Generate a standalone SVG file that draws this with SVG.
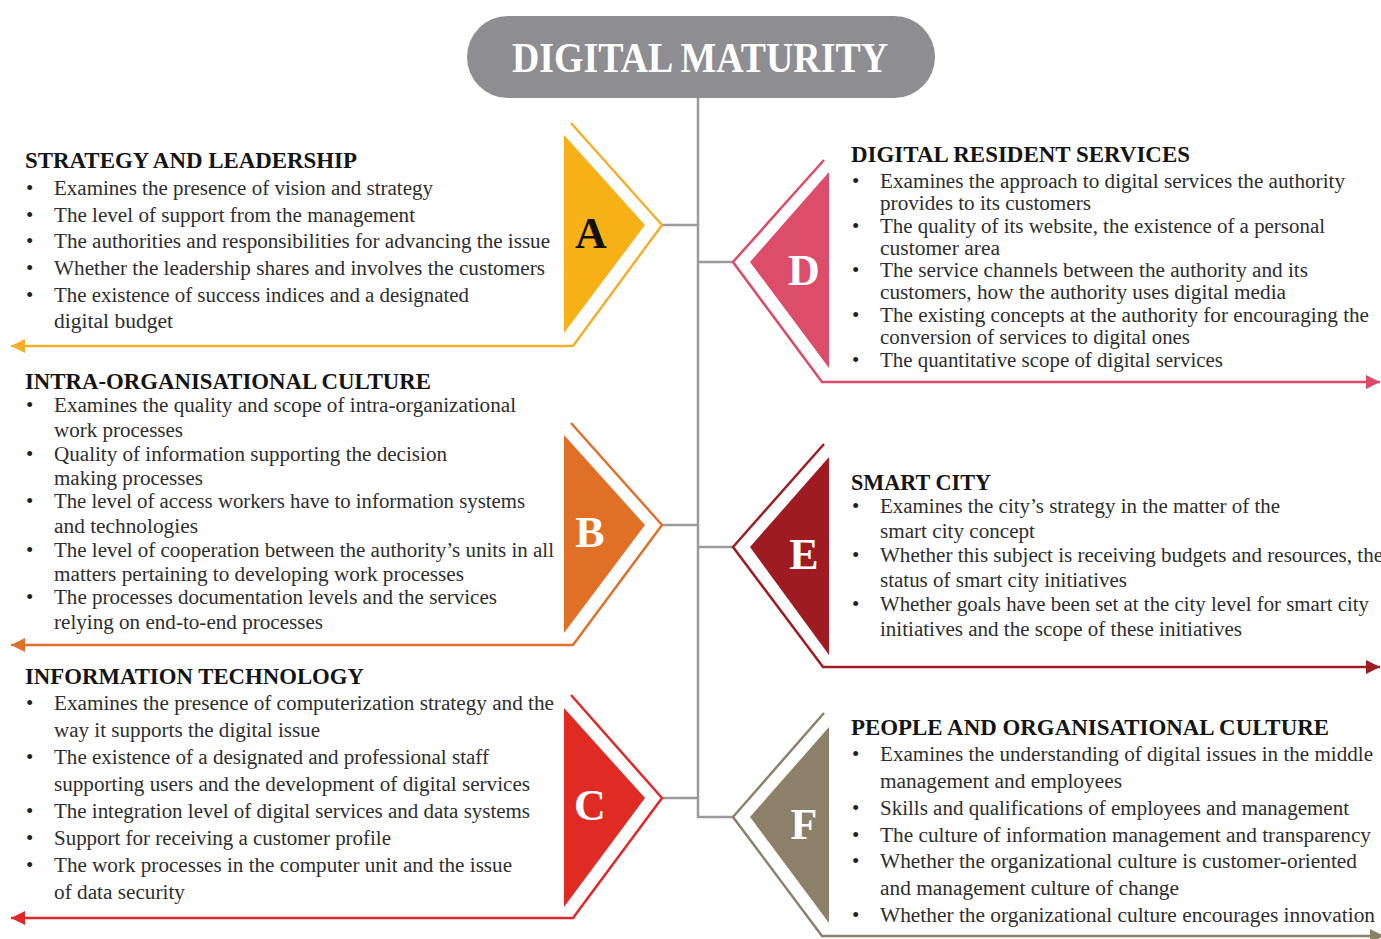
<svg xmlns="http://www.w3.org/2000/svg" width="1381" height="939" viewBox="0 0 1381 939">
<style>
.t{font-family:"Liberation Serif","Times New Roman",serif;font-size:20px;fill:#2e2e2e}
.b{font-family:"Liberation Serif","Times New Roman",serif;font-size:21px;fill:#222}
.h{font-family:"Liberation Serif","Times New Roman",serif;font-size:24px;font-weight:bold;fill:#141414}
.L{font-family:"Liberation Serif","Times New Roman",serif;font-size:44px;font-weight:bold;text-anchor:middle}
.con{fill:none;stroke:#9b9b9b;stroke-width:2.5}
.ol{fill:none;stroke-width:2.5;stroke-linejoin:miter}
</style>
<defs>
<marker id="mA" markerUnits="userSpaceOnUse" markerWidth="16" markerHeight="16" refX="14" refY="7" orient="auto"><path d="M0,0 L14,7 L0,14 z" fill="#F2B02A"/></marker>
<marker id="mB" markerUnits="userSpaceOnUse" markerWidth="16" markerHeight="16" refX="14" refY="7" orient="auto"><path d="M0,0 L14,7 L0,14 z" fill="#E0712C"/></marker>
<marker id="mC" markerUnits="userSpaceOnUse" markerWidth="16" markerHeight="16" refX="14" refY="7" orient="auto"><path d="M0,0 L14,7 L0,14 z" fill="#E0282A"/></marker>
<marker id="mD" markerUnits="userSpaceOnUse" markerWidth="16" markerHeight="16" refX="14" refY="7" orient="auto"><path d="M0,0 L14,7 L0,14 z" fill="#DC4A68"/></marker>
<marker id="mE" markerUnits="userSpaceOnUse" markerWidth="16" markerHeight="16" refX="14" refY="7" orient="auto"><path d="M0,0 L14,7 L0,14 z" fill="#A01C24"/></marker>
<marker id="mF" markerUnits="userSpaceOnUse" markerWidth="16" markerHeight="16" refX="14" refY="7" orient="auto"><path d="M0,0 L14,7 L0,14 z" fill="#8D8169"/></marker>
</defs>
<rect width="1381" height="939" fill="#ffffff"/>

<g id="title">
<rect x="467" y="16" width="468" height="82" rx="41" fill="#8E8E92"/>
<text x="700" y="72" class="L" style="font-size:43px;fill:#ffffff" textLength="376" lengthAdjust="spacingAndGlyphs">DIGITAL MATURITY</text>
</g>

<g id="connectors">
<path class="con" d="M698,98 V817 H733"/>
<path class="con" d="M662,225 H698"/>
<path class="con" d="M698,262 H733"/>
<path class="con" d="M662,525 H698"/>
<path class="con" d="M698,547 H733"/>
<path class="con" d="M662,798 H698"/>
</g>

<g id="nodeA">
<polygon points="564,135 645,225 564,333" fill="#F7B016"/>
<polyline class="ol" points="571,123 662,225 573,346 11,346" stroke="#F2B02A" marker-end="url(#mA)"/>
<text x="591" y="248" class="L" fill="#111111">A</text>
<text x="25" y="168" class="h" textLength="332" lengthAdjust="spacingAndGlyphs">STRATEGY AND LEADERSHIP</text>
<text x="26" y="195" class="b">•</text><text x="54" y="195" class="t" textLength="379" lengthAdjust="spacingAndGlyphs">Examines the presence of vision and strategy</text>
<text x="26" y="222" class="b">•</text><text x="54" y="222" class="t" textLength="361" lengthAdjust="spacingAndGlyphs">The level of support from the management</text>
<text x="26" y="248" class="b">•</text><text x="54" y="248" class="t" textLength="496" lengthAdjust="spacingAndGlyphs">The authorities and responsibilities for advancing the issue</text>
<text x="26" y="275" class="b">•</text><text x="54" y="275" class="t" textLength="491" lengthAdjust="spacingAndGlyphs">Whether the leadership shares and involves the customers</text>
<text x="26" y="302" class="b">•</text><text x="54" y="302" class="t" textLength="415" lengthAdjust="spacingAndGlyphs">The existence of success indices and a designated</text>
<text x="54" y="328" class="t" textLength="119" lengthAdjust="spacingAndGlyphs">digital budget</text>
</g>

<g id="nodeB">
<polygon points="564,435 645,525 564,633" fill="#E07026"/>
<polyline class="ol" points="571,423 662,525 573,645 11,645" stroke="#E0712C" marker-end="url(#mB)"/>
<text x="590" y="547" class="L" fill="#ffffff">B</text>
<text x="25" y="389" class="h" textLength="406" lengthAdjust="spacingAndGlyphs">INTRA-ORGANISATIONAL CULTURE</text>
<text x="26" y="412" class="b">•</text><text x="54" y="412" class="t" textLength="462" lengthAdjust="spacingAndGlyphs">Examines the quality and scope of intra-organizational</text>
<text x="54" y="437" class="t" textLength="129" lengthAdjust="spacingAndGlyphs">work processes</text>
<text x="26" y="461" class="b">•</text><text x="54" y="461" class="t" textLength="393" lengthAdjust="spacingAndGlyphs">Quality of information supporting the decision</text>
<text x="54" y="485" class="t" textLength="149" lengthAdjust="spacingAndGlyphs">making processes</text>
<text x="26" y="508" class="b">•</text><text x="54" y="508" class="t" textLength="471" lengthAdjust="spacingAndGlyphs">The level of access workers have to information systems</text>
<text x="54" y="533" class="t" textLength="144" lengthAdjust="spacingAndGlyphs">and technologies</text>
<text x="26" y="557" class="b">•</text><text x="54" y="557" class="t" textLength="500" lengthAdjust="spacingAndGlyphs">The level of cooperation between the authority’s units in all</text>
<text x="54" y="581" class="t" textLength="410" lengthAdjust="spacingAndGlyphs">matters pertaining to developing work processes</text>
<text x="26" y="604" class="b">•</text><text x="54" y="604" class="t" textLength="443" lengthAdjust="spacingAndGlyphs">The processes documentation levels and the services</text>
<text x="54" y="629" class="t" textLength="269" lengthAdjust="spacingAndGlyphs">relying on end-to-end processes</text>
</g>

<g id="nodeC">
<polygon points="564,708 645,798 564,907" fill="#E02B24"/>
<polyline class="ol" points="571,695 662,798 573,918 11,918" stroke="#E0282A" marker-end="url(#mC)"/>
<text x="590" y="820" class="L" fill="#ffffff">C</text>
<text x="25" y="684" class="h" textLength="339" lengthAdjust="spacingAndGlyphs">INFORMATION TECHNOLOGY</text>
<text x="26" y="710" class="b">•</text><text x="54" y="710" class="t" textLength="500" lengthAdjust="spacingAndGlyphs">Examines the presence of computerization strategy and the</text>
<text x="54" y="737" class="t" textLength="266" lengthAdjust="spacingAndGlyphs">way it supports the digital issue</text>
<text x="26" y="764" class="b">•</text><text x="54" y="764" class="t" textLength="435" lengthAdjust="spacingAndGlyphs">The existence of a designated and professional staff</text>
<text x="54" y="791" class="t" textLength="476" lengthAdjust="spacingAndGlyphs">supporting users and the development of digital services</text>
<text x="26" y="818" class="b">•</text><text x="54" y="818" class="t" textLength="476" lengthAdjust="spacingAndGlyphs">The integration level of digital services and data systems</text>
<text x="26" y="845" class="b">•</text><text x="54" y="845" class="t" textLength="337" lengthAdjust="spacingAndGlyphs">Support for receiving a customer profile</text>
<text x="26" y="872" class="b">•</text><text x="54" y="872" class="t" textLength="458" lengthAdjust="spacingAndGlyphs">The work processes in the computer unit and the issue</text>
<text x="54" y="899" class="t" textLength="131" lengthAdjust="spacingAndGlyphs">of data security</text>
</g>

<g id="nodeD">
<polygon points="829,172 750,262 829,368" fill="#DC4D6A"/>
<polyline class="ol" points="824,160 733,262 822,382 1380,382" stroke="#DC4A68" marker-end="url(#mD)"/>
<text x="804" y="285" class="L" fill="#ffffff">D</text>
<text x="851" y="162" class="h" textLength="339" lengthAdjust="spacingAndGlyphs">DIGITAL RESIDENT SERVICES</text>
<text x="852" y="188" class="b">•</text><text x="880" y="188" class="t" textLength="465" lengthAdjust="spacingAndGlyphs">Examines the approach to digital services the authority</text>
<text x="880" y="210" class="t" textLength="211" lengthAdjust="spacingAndGlyphs">provides to its customers</text>
<text x="852" y="233" class="b">•</text><text x="880" y="233" class="t" textLength="445" lengthAdjust="spacingAndGlyphs">The quality of its website, the existence of a personal</text>
<text x="880" y="255" class="t" textLength="120" lengthAdjust="spacingAndGlyphs">customer area</text>
<text x="852" y="277" class="b">•</text><text x="880" y="277" class="t" textLength="428" lengthAdjust="spacingAndGlyphs">The service channels between the authority and its</text>
<text x="880" y="299" class="t" textLength="406" lengthAdjust="spacingAndGlyphs">customers, how the authority uses digital media</text>
<text x="852" y="322" class="b">•</text><text x="880" y="322" class="t" textLength="489" lengthAdjust="spacingAndGlyphs">The existing concepts at the authority for encouraging the</text>
<text x="880" y="344" class="t" textLength="310" lengthAdjust="spacingAndGlyphs">conversion of services to digital ones</text>
<text x="852" y="367" class="b">•</text><text x="880" y="367" class="t" textLength="343" lengthAdjust="spacingAndGlyphs">The quantitative scope of digital services</text>
</g>

<g id="nodeE">
<polygon points="829,457 750,547 829,655" fill="#9E1B22"/>
<polyline class="ol" points="824,444 733,547 823,667 1380,667" stroke="#A01C24" marker-end="url(#mE)"/>
<text x="804" y="569" class="L" fill="#ffffff">E</text>
<text x="851" y="490" class="h" textLength="140" lengthAdjust="spacingAndGlyphs">SMART CITY</text>
<text x="852" y="513" class="b">•</text><text x="880" y="513" class="t" textLength="400" lengthAdjust="spacingAndGlyphs">Examines the city’s strategy in the matter of the</text>
<text x="880" y="538" class="t" textLength="155" lengthAdjust="spacingAndGlyphs">smart city concept</text>
<text x="852" y="562" class="b">•</text><text x="880" y="562" class="t" textLength="503" lengthAdjust="spacingAndGlyphs">Whether this subject is receiving budgets and resources, the</text>
<text x="880" y="587" class="t" textLength="247" lengthAdjust="spacingAndGlyphs">status of smart city initiatives</text>
<text x="852" y="611" class="b">•</text><text x="880" y="611" class="t" textLength="489" lengthAdjust="spacingAndGlyphs">Whether goals have been set at the city level for smart city</text>
<text x="880" y="636" class="t" textLength="362" lengthAdjust="spacingAndGlyphs">initiatives and the scope of these initiatives</text>
</g>

<g id="nodeF">
<polygon points="829,727 750,817 829,923" fill="#8D8068"/>
<polyline class="ol" points="824,713 733,817 822,936 1384,936" stroke="#8D8169" marker-end="url(#mF)"/>
<text x="804" y="839" class="L" fill="#ffffff">F</text>
<text x="851" y="735" class="h" textLength="478" lengthAdjust="spacingAndGlyphs">PEOPLE AND ORGANISATIONAL CULTURE</text>
<text x="852" y="761" class="b">•</text><text x="880" y="761" class="t" textLength="493" lengthAdjust="spacingAndGlyphs">Examines the understanding of digital issues in the middle</text>
<text x="880" y="788" class="t" textLength="242" lengthAdjust="spacingAndGlyphs">management and employees</text>
<text x="852" y="815" class="b">•</text><text x="880" y="815" class="t" textLength="469" lengthAdjust="spacingAndGlyphs">Skills and qualifications of employees and management</text>
<text x="852" y="842" class="b">•</text><text x="880" y="842" class="t" textLength="491" lengthAdjust="spacingAndGlyphs">The culture of information management and transparency</text>
<text x="852" y="868" class="b">•</text><text x="880" y="868" class="t" textLength="477" lengthAdjust="spacingAndGlyphs">Whether the organizational culture is customer-oriented</text>
<text x="880" y="895" class="t" textLength="299" lengthAdjust="spacingAndGlyphs">and management culture of change</text>
<text x="852" y="922" class="b">•</text><text x="880" y="922" class="t" textLength="495" lengthAdjust="spacingAndGlyphs">Whether the organizational culture encourages innovation</text>
</g>
</svg>
